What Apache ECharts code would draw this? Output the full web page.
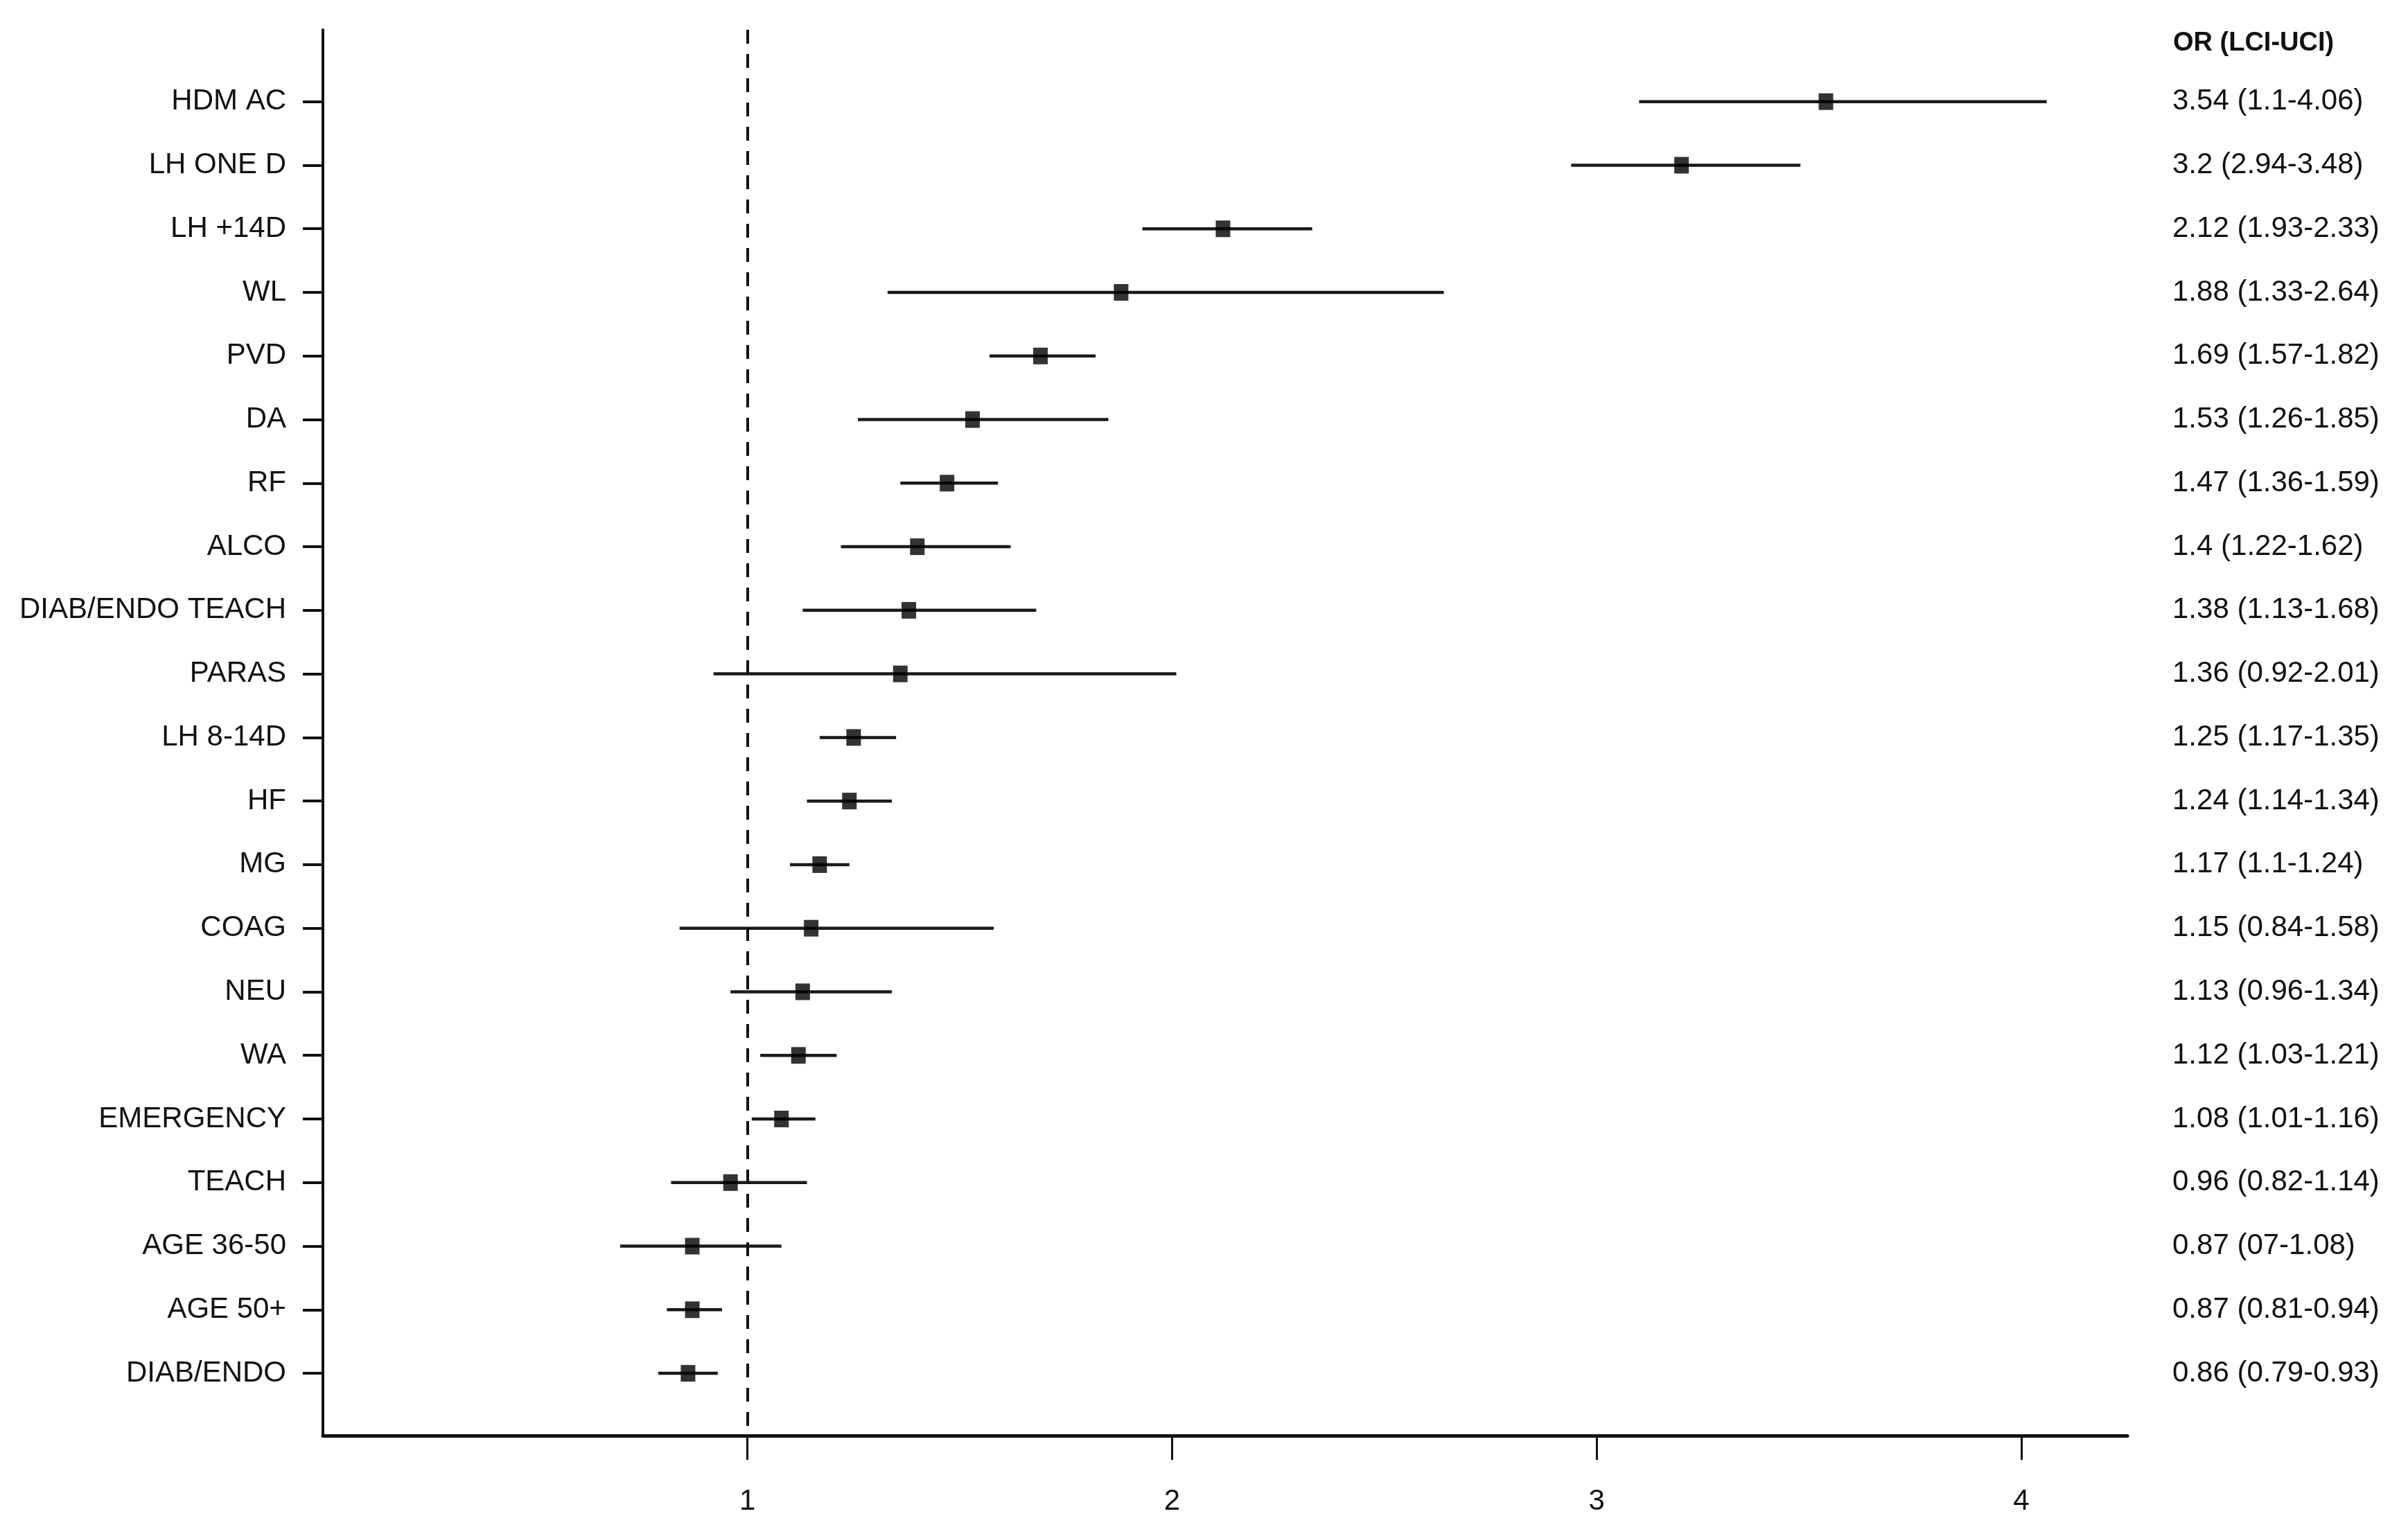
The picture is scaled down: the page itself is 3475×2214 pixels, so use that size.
<!DOCTYPE html>
<html>
<head>
<meta charset="utf-8">
<script src="https://cdn.jsdelivr.net/npm/echarts@6/dist/echarts.min.js"></script>
<style>
  html, body { margin: 0; padding: 0; background: #fff; }
  #chart { width: 3475px; height: 2214px; }
</style>
</head>
<body>
<div id="chart"></div>
<script>
// rows, top to bottom
const rows = ['HDM AC', 'LH ONE D', 'LH +14D', 'WL', 'PVD', 'DA', 'RF', 'ALCO', 'DIAB/ENDO TEACH', 'PARAS',
  'LH 8-14D', 'HF', 'MG', 'COAG', 'NEU', 'WA', 'EMERGENCY', 'TEACH', 'AGE 36-50', 'AGE 50+', 'DIAB/ENDO']
const orVals = [3.54, 3.2, 2.12, 1.88, 1.69, 1.53, 1.47, 1.4, 1.38, 1.36, 1.25, 1.24, 1.17, 1.15, 1.13, 1.12, 1.08, 0.96, 0.87, 0.87, 0.86]
// interval ends as drawn in the figure
const lciVals = [3.1, 2.94, 1.93, 1.33, 1.57, 1.26, 1.36, 1.22, 1.13, 0.92, 1.17, 1.14, 1.1, 0.84, 0.96, 1.03, 1.01, 0.82, 0.7, 0.81, 0.79]
const uciVals = [4.06, 3.48, 2.33, 2.64, 1.82, 1.85, 1.59, 1.62, 1.68, 2.01, 1.35, 1.34, 1.24, 1.58, 1.34, 1.21, 1.16, 1.14, 1.08, 0.94, 0.93]
// right column text, as printed
const orText = ['3.54 (1.1-4.06)', '3.2 (2.94-3.48)', '2.12 (1.93-2.33)', '1.88 (1.33-2.64)', '1.69 (1.57-1.82)',
  '1.53 (1.26-1.85)', '1.47 (1.36-1.59)', '1.4 (1.22-1.62)', '1.38 (1.13-1.68)', '1.36 (0.92-2.01)',
  '1.25 (1.17-1.35)', '1.24 (1.14-1.34)', '1.17 (1.1-1.24)', '1.15 (0.84-1.58)', '1.13 (0.96-1.34)',
  '1.12 (1.03-1.21)', '1.08 (1.01-1.16)', '0.96 (0.82-1.14)', '0.87 (07-1.08)', '0.87 (0.81-0.94)', '0.86 (0.79-0.93)']
const xTicks = [1, 2, 3, 4]
const refLine = 1

const rowIdx = rows.map((_, i) => i)
const font = 'Liberation Sans, Arial, sans-serif'
const ink = '#111'

const chart = echarts.init(document.getElementById('chart'))

const option = {
  animation: false,
  backgroundColor: '#fff',
  title: {
    text: 'OR (LCI-UCI)',
    left: 3136,
    top: 44,
    padding: 0,
    textStyle: { fontFamily: font, fontSize: 38, fontWeight: 'bold', color: ink }
  },
  grid: { left: 466, right: 405, top: 43, bottom: 142 },
  xAxis: {
    type: 'value',
    min: 0,
    max: 4.25,
    axisLine: { show: true, onZero: false, lineStyle: { color: ink, width: 5 } },
    axisTick: { show: true, customValues: xTicks, length: 35, lineStyle: { color: ink, width: 3 } },
    axisLabel: {
      customValues: xTicks,
      margin: 74,
      fontFamily: font,
      fontSize: 42,
      color: ink
    },
    splitLine: { show: false }
  },
  yAxis: [
    {
      type: 'value',
      inverse: true,
      min: -1.13,
      max: 20.98,
      axisLine: { show: true, onZero: false, lineStyle: { color: ink, width: 4 } },
      axisTick: { show: true, customValues: rowIdx, length: 29, lineStyle: { color: ink, width: 4 } },
      axisLabel: {
        customValues: rowIdx,
        margin: 53,
        fontFamily: font,
        fontSize: 42,
        color: ink,
        padding: [8, 0, 0, 0],
        formatter: v => rows[v] ?? ''
      },
      splitLine: { show: false }
    },
    {
      type: 'value',
      position: 'right',
      inverse: true,
      min: -1.13,
      max: 20.98,
      axisLine: { show: false, onZero: false },
      axisTick: { show: false },
      axisLabel: {
        customValues: rowIdx,
        margin: 65,
        align: 'left',
        fontFamily: font,
        fontSize: 42,
        color: ink,
        padding: [8, 0, 0, 0],
        formatter: v => orText[v] ?? ''
      },
      splitLine: { show: false }
    }
  ],
  series: [
    {
      name: 'CI',
      type: 'custom',
      renderItem: (params, api) => {
        const a = api.coord([api.value(0), api.value(2)])
        const b = api.coord([api.value(1), api.value(2)])
        return {
          type: 'line',
          shape: { x1: a[0], y1: a[1], x2: b[0], y2: b[1] },
          style: { stroke: '#1a1a1a', lineWidth: 4.5 }
        }
      },
      encode: { x: [0, 1], y: 2 },
      data: rows.map((_, i) => [lciVals[i], uciVals[i], i]),
      z: 2
    },
    {
      name: 'OR',
      type: 'scatter',
      symbol: 'rect',
      symbolSize: [21, 24],
      itemStyle: { color: '#000' },
      data: rows.map((_, i) => [orVals[i], i]),
      z: 3,
      markLine: {
        silent: true,
        symbol: 'none',
        label: { show: false },
        lineStyle: { color: ink, width: 4, type: [20, 15] },
        data: [{ xAxis: refLine }]
      }
    }
  ]
}

chart.setOption(option)
window.addEventListener('resize', () => chart.resize())
</script>
</body>
</html>
